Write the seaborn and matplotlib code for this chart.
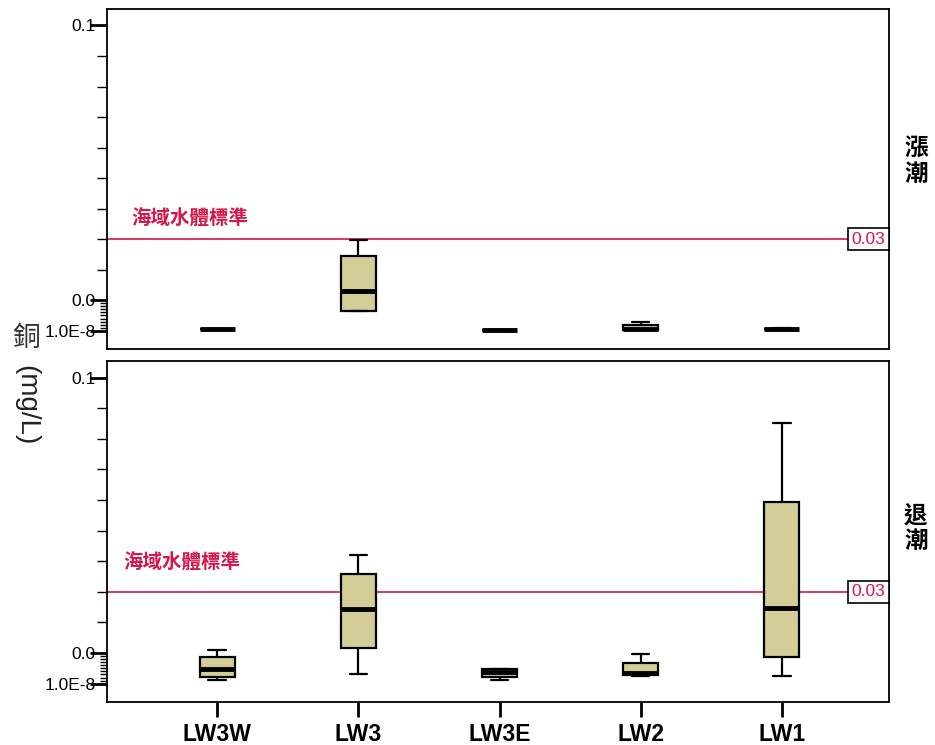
import numpy as np
import pandas as pd
import matplotlib
matplotlib.use('Agg')
import matplotlib.pyplot as plt
import matplotlib.transforms as mtransforms
import seaborn as sns

# stations along the x axis
stations = ['LW3W', 'LW3', 'LW3E', 'LW2', 'LW1']

# five-number summaries (min, q1, median, q3, max), mg/L
flood_values = [
    [0.0005, 0.0006, 0.0006, 0.0007, 0.0007],
    [0.0064, 0.0065, 0.0131, 0.0244, 0.0298],
    [0.0001, 0.0002, 0.0002, 0.0003, 0.0003],
    [0.0001, 0.0002, 0.0006, 0.0020, 0.0027],
    [0.0004, 0.0005, 0.0006, 0.0007, 0.0008],
]
ebb_values = [
    [0.0011, 0.0021, 0.0048, 0.0087, 0.0109],
    [0.0032, 0.0115, 0.0245, 0.0358, 0.0421],
    [0.0013, 0.0022, 0.0038, 0.0047, 0.0048],
    [0.0026, 0.0029, 0.0035, 0.0067, 0.0098],
    [0.0024, 0.0087, 0.0246, 0.0594, 0.0852],
]
tide_labels = ['漲\n潮', '退\n潮']
standard = 0.03
standard_label = '海域水體標準'

# y ticks
label_ticks = [1e-8, 0.01, 0.1]
label_texts = ['1.0E-8', '0.0', '0.1']
mid_ticks = [0.02, 0.03, 0.04, 0.05, 0.06, 0.07, 0.08, 0.09]
small_ticks = [0.001, 0.002, 0.003, 0.004, 0.005, 0.006, 0.007, 0.008, 0.009]

rows = []
for tide, vals in zip(['flood', 'ebb'], [flood_values, ebb_values]):
    for st, v in zip(stations, vals):
        for x in v:
            rows.append({'tide': tide, 'station': st, 'value': x})
df = pd.DataFrame(rows)

sns.set_style('white')
plt.rcParams['font.family'] = ['Liberation Sans', 'Noto Sans CJK TC', 'DejaVu Sans']
plt.rcParams['text.color'] = 'black'
plt.rcParams['xtick.color'] = 'black'
plt.rcParams['ytick.color'] = 'black'

fig = plt.figure(figsize=(9.35, 7.45), dpi=100)
ax_top = fig.add_axes([0.1144, 0.5315, 0.8364, 0.4564])
ax_bot = fig.add_axes([0.1144, 0.0577, 0.8364, 0.4577])

box_color = '#D3CE97'
red = '#D4164A'

for ax, tide, tlabel, ty, lx, ly in [
    (ax_top, 'flood', tide_labels[0], 161, -0.607, 0.0365),
    (ax_bot, 'ebb', tide_labels[1], 528, -0.666, 0.0395),
]:
    sns.boxplot(data=df[df['tide'] == tide], x='station', y='value',
                order=stations, color=box_color, saturation=1, width=0.25,
                whis=(0, 100), linecolor='black', linewidth=1.6,
                fliersize=0, medianprops=dict(linewidth=3.5), ax=ax)
    ax.set_xlim(-0.782, 4.76)
    ax.set_ylim(-0.006, 0.1054)
    ax.set_xlabel('')
    ax.set_ylabel('')

    # reference line
    ax.axhline(standard, color=red, linewidth=1.2, zorder=1)
    ax.text(lx, ly, standard_label, color=red, fontsize=14, fontweight='bold',
            family=['Noto Sans CJK TC'], ha='left', va='center')
    trans = mtransforms.blended_transform_factory(ax.transAxes, ax.transData)
    ax.text(0.9955, standard, '0.03', transform=trans, color=red, fontsize=12.5,
            ha='right', va='center',
            bbox=dict(boxstyle='square,pad=0.22', fc='white', ec='black', lw=1.2))

    # y ticks
    ax.set_yticks(label_ticks + mid_ticks)
    ax.set_yticklabels(label_texts + [''] * len(mid_ticks), fontsize=12.5)
    ax.set_yticks(small_ticks, minor=True)
    ax.tick_params(axis='y', which='major', left=True, length=7, width=1,
                   color='black', pad=1)
    ax.tick_params(axis='y', which='minor', left=True, length=5, width=1,
                   color='black')
    for t, val in zip(ax.yaxis.get_major_ticks(), label_ticks + mid_ticks):
        if val in label_ticks:
            t.tick1line.set_markersize(12)
            t.tick1line.set_markeredgewidth(2)

    for s in ax.spines.values():
        s.set_color('black')
        s.set_linewidth(1.3)

    fig.text(916 / 935, 1 - ty / 745, tlabel, fontsize=17, fontweight='bold',
             family=['Noto Sans CJK TC'], ha='center', va='center',
             linespacing=1.05)

ax_top.tick_params(axis='x', bottom=False, labelbottom=False)
ax_bot.tick_params(axis='x', bottom=True, length=11, width=2, color='black',
                   pad=4)
for lab in ax_bot.get_xticklabels():
    lab.set_fontsize(16.5)
    lab.set_fontweight('bold')
    lab.set_color('black')

# y axis title: upright CJK char then rotated unit
fig.text(26 / 935, 1 - 338 / 745, '銅', fontsize=20, family=['Noto Sans CJK TC'],
         ha='center', va='center', color='#333333')
fig.text(26 / 935, 1 - 405 / 745, '(mg/L)', fontsize=20, rotation=-90,
         ha='center', va='center', color='#222222')

fig.savefig('out.png', dpi=100)
